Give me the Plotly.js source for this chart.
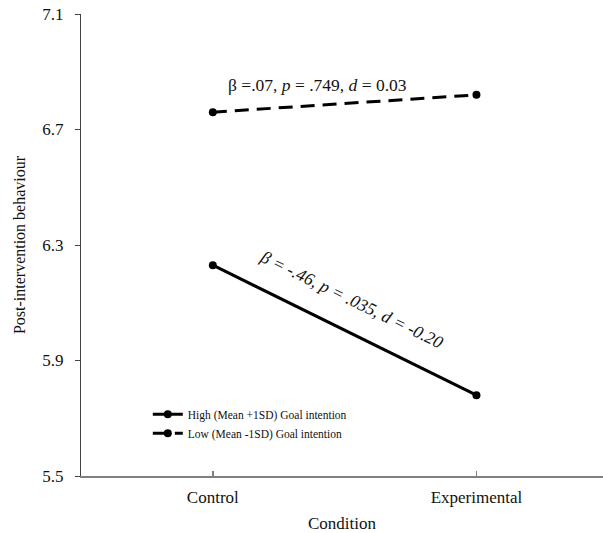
<!DOCTYPE html>
<html>
<head>
<meta charset="utf-8">
<script src="https://cdn.plot.ly/plotly-3.0.1.min.js"></script>
<style>html,body{margin:0;padding:0;background:#fff;} #chart{width:603px;height:533px;}</style>
</head>
<body>
<div id="chart"></div>
<script>
const categories = ["Control", "Experimental"];
const highValues = [6.23, 5.78];
const lowValues = [6.76, 6.82];
const seriesNames = ["High (Mean +1SD) Goal intention", "Low (Mean -1SD) Goal intention"];
const yTicks = [5.5, 5.9, 6.3, 6.7, 7.1];
const yTickLabels = ["5.5", "5.9", "6.3", "6.7", "7.1"];

const serif = "Liberation Serif, Times New Roman, serif";

const traces = [
  {
    x: categories, y: highValues, name: seriesNames[0], type: "scatter", mode: "lines+markers",
    line: {color: "#000", width: 3}, marker: {color: "#000", size: 8}
  },
  {
    x: categories, y: lowValues, name: seriesNames[1], type: "scatter", mode: "lines+markers",
    line: {color: "#000", width: 3, dash: "14px,8px"}, marker: {color: "#000", size: 8}
  }
];

const layout = {
  width: 603, height: 533,
  margin: {l: 81, r: 0, t: 14, b: 57, pad: 0},
  paper_bgcolor: "#fff", plot_bgcolor: "#fff",
  font: {family: serif, color: "#111", size: 17},
  showlegend: true,
  legend: {
    x: 0.128, y: 0.165, xanchor: "left", yanchor: "top",
    bgcolor: "rgba(0,0,0,0)", font: {family: serif, size: 11.5, color: "#111"},
    itemwidth: 30, tracegroupgap: 4
  },
  xaxis: {
    type: "category", range: [-0.5, 1.48],
    showgrid: false, zeroline: false,
    showline: true, linecolor: "#808080", linewidth: 2,
    ticks: "inside", ticklen: 5, tickcolor: "#808080", tickwidth: 1.5,
    ticklabelstandoff: 5,
    tickfont: {family: serif, size: 17, color: "#111"},
    title: {text: "Condition", font: {family: serif, size: 17, color: "#111"}, standoff: 12},
    fixedrange: true
  },
  yaxis: {
    range: [5.5, 7.1], tickvals: yTicks, ticktext: yTickLabels,
    showgrid: false, zeroline: false,
    showline: true, linecolor: "#444", linewidth: 1,
    ticks: "outside", ticklen: 5, tickcolor: "#444", tickwidth: 1,
    ticklabelstandoff: 8,
    tickfont: {family: serif, size: 17, color: "#111"},
    title: {text: "Post-intervention behaviour", font: {family: serif, size: 16, color: "#111"}, standoff: 12},
    fixedrange: true
  },
  annotations: [
    {
      xref: "paper", yref: "paper",
      x: (317 - 81) / 522, y: (476 - 73) / 462,
      text: "β =.07, <i>p</i> = .749, <i>d</i> = 0.03",
      showarrow: false, font: {family: serif, size: 17.5, color: "#111"}
    },
    {
      xref: "paper", yref: "paper",
      x: (351 - 81) / 522, y: (476 - 299) / 462,
      text: "<i>β = -.46, p = .035, d = -0.20</i>",
      textangle: 26,
      showarrow: false, font: {family: serif, size: 17.5, color: "#111"}
    }
  ]
};

Plotly.newPlot("chart", traces, layout, {displayModeBar: false, staticPlot: true});
</script>
</body>
</html>
